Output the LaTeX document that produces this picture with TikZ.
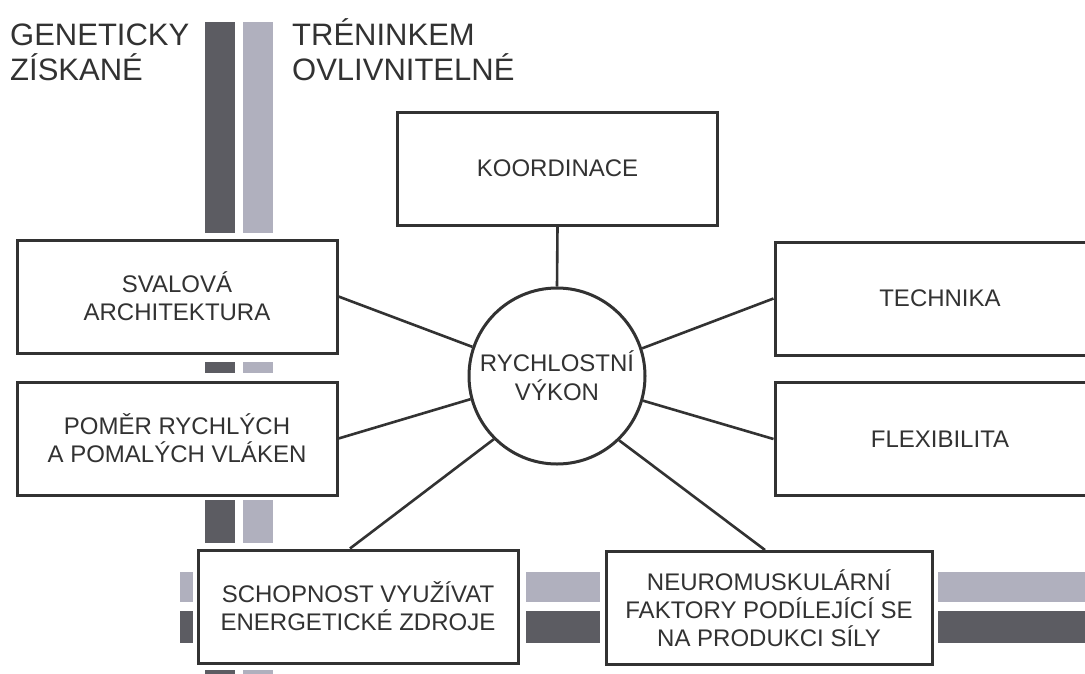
\documentclass[tikz,border=0pt]{standalone}
\usepackage{fontspec}
\setmainfont{Liberation Sans}
\definecolor{genetic}{RGB}{92,92,98}
\definecolor{trained}{RGB}{176,176,190}
\definecolor{ink}{RGB}{50,50,50}
\tikzset{
  factor/.style={draw=ink, line width=3pt, fill=white, text=ink, align=center,
    inner sep=0pt, minimum width=320pt, minimum height=113pt,
    font=\fontsize{24}{28}\selectfont},
  widefactor/.style={factor, minimum width=330pt},
  hub/.style={circle, draw=ink, line width=3pt, fill=white, text=ink, align=center,
    inner sep=0pt, minimum size=176pt, font=\fontsize{24}{29}\selectfont},
  heading/.style={anchor=base west, align=left, text=ink, inner sep=0pt,
    font=\fontsize{31}{35}\selectfont},
  link/.style={draw=ink, line width=2.6pt},
}
\begin{document}
\begin{tikzpicture}[x=1pt, y=-1pt]
  \useasboundingbox (0,0) rectangle (1085,673);
  \clip (0,0) rectangle (1085,673);
  \fill[white] (0,0) rectangle (1085,673);
  \fill[genetic] (205,22) rectangle (235,233);
  \fill[trained] (243,22) rectangle (273,233);
  \fill[genetic] (205,362) rectangle (235,373);
  \fill[trained] (243,362) rectangle (273,373);
  \fill[genetic] (205,500) rectangle (235,543);
  \fill[trained] (243,500) rectangle (273,543);
  \fill[genetic] (205,670) rectangle (235,680);
  \fill[trained] (243,670) rectangle (273,680);
  \fill[trained] (180,572) rectangle (193,602);
  \fill[genetic] (180,611) rectangle (193,643);
  \fill[trained] (526,572) rectangle (600,602);
  \fill[genetic] (526,611) rectangle (600,643);
  \fill[trained] (938,572) rectangle (1090,602);
  \fill[genetic] (938,611) rectangle (1090,643);
  \path
    (10,80) node[heading] (gen) {GENETICKY\\ZÍSKANÉ}
    (292,80) node[heading] (tren) {TRÉNINKEM\\OVLIVNITELNÉ}
    (557,376) node[hub] (hub) {RYCHLOSTNÍ\\VÝKON}
    (557.5,168.5) node[factor] (koord) {KOORDINACE}
    (177,296.5) node[factor] (svalova) {SVALOVÁ\\ARCHITEKTURA}
    (177,438.5) node[factor] (pomer) {POMĚR RYCHLÝCH\\A POMALÝCH VLÁKEN}
    (940,298.5) node[widefactor] (technika) {TECHNIKA}
    (940,439) node[widefactor] (flex) {FLEXIBILITA}
    (358,606.5) node[factor] (zdroje) {SCHOPNOST VYUŽÍVAT\\ENERGETICKÉ ZDROJE}
    (769,608) node[factor, minimum width=326pt] (neuro) {NEUROMUSKULÁRNÍ\\FAKTORY PODÍLEJÍCÍ SE\\NA PRODUKCI SÍLY};
  \begin{scope}[link]
    \draw (hub.90) to (koord.south);
    \draw (hub.161.6) to (svalova.east);
    \draw (hub.195.8) to (pomer.east);
    \draw (hub.18.4) to (technika.west);
    \draw (hub.344.2) to (flex.west);
    \draw (hub.225.9) to ([xshift=-8pt]zdroje.north);
    \draw (hub.314.5) to ([xshift=-4pt]neuro.north);
  \end{scope}
\end{tikzpicture}
\end{document}
